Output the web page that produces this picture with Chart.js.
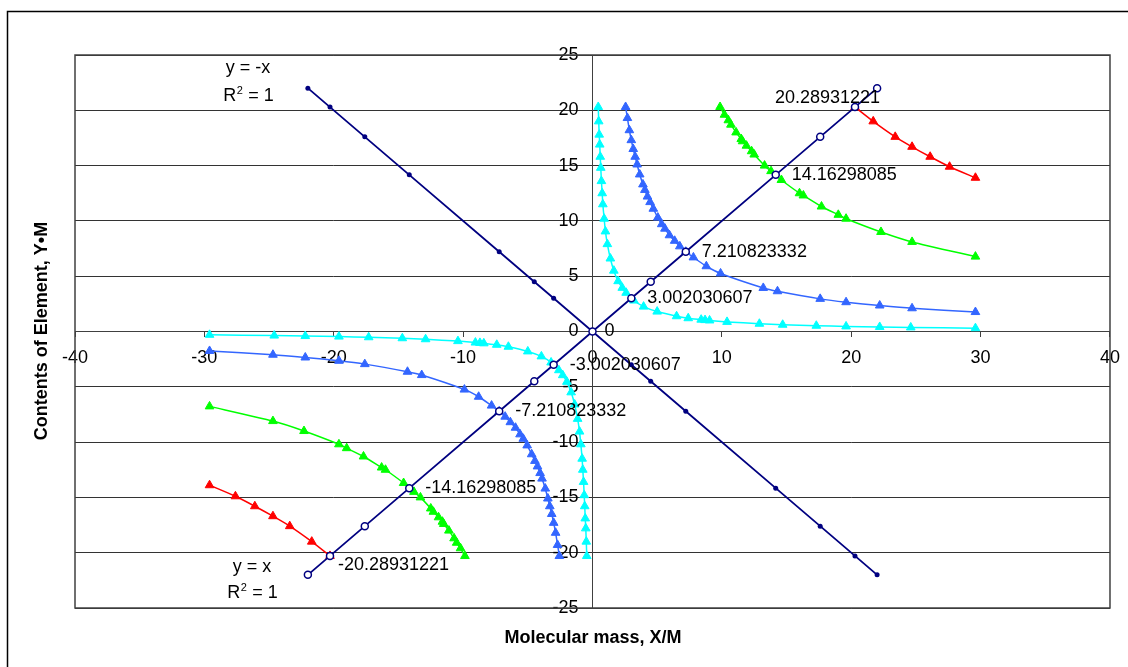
<!DOCTYPE html>
<html>
<head>
<meta charset="utf-8">
<script src="https://cdn.jsdelivr.net/npm/chart.js@4.4.1/dist/chart.umd.min.js"></script>
<style>
  html, body { margin: 0; padding: 0; background: #fff; overflow: hidden; }
  #wrap { position: relative; width: 1128px; height: 667px; overflow: hidden; }
</style>
</head>
<body>
<div id="wrap"><canvas id="grafica" width="1131" height="667"></canvas></div>
<script>
// ---- datos ----
// curva cian, cuadrante I
const cianX1 = [0.444, 0.48, 0.52, 0.56, 0.6, 0.64, 0.69, 0.75, 0.8, 0.9, 1.0, 1.15, 1.38, 1.65, 1.98, 2.3, 2.6, 3.2, 3.95, 5.0, 6.5, 7.4, 8.4, 8.7, 9.05, 10.4, 12.9, 14.7, 17.3, 19.6, 22.2, 24.6, 29.6];
const cianY1 = [20.3, 19.0, 17.8, 16.9, 15.8, 14.8, 13.6, 12.5, 11.5, 10.2, 9.05, 7.9, 6.6, 5.5, 4.55, 3.95, 3.5, 2.8, 2.25, 1.8, 1.38, 1.2, 1.07, 1.03, 1.0, 0.87, 0.7, 0.61, 0.52, 0.46, 0.41, 0.37, 0.3];
// curva cian, cuadrante III
const cianX3 = [-0.444, -0.48, -0.52, -0.56, -0.6, -0.64, -0.69, -0.75, -0.8, -0.9, -1.0, -1.15, -1.38, -1.65, -1.98, -2.3, -2.6, -3.2, -3.95, -5.0, -6.5, -7.4, -8.4, -8.7, -9.05, -10.4, -12.9, -14.7, -17.3, -19.6, -22.2, -24.6, -29.6];
const cianY3 = [-20.3, -19.0, -17.8, -16.9, -15.8, -14.8, -13.6, -12.5, -11.5, -10.2, -9.05, -7.9, -6.6, -5.5, -4.55, -3.95, -3.5, -2.8, -2.25, -1.8, -1.38, -1.2, -1.07, -1.03, -1.0, -0.87, -0.7, -0.61, -0.52, -0.46, -0.41, -0.37, -0.3];

// curva azul
const azulX1 = [2.56, 2.7, 2.85, 3.0, 3.15, 3.3, 3.45, 3.65, 3.9, 4.05, 4.25, 4.45, 4.7, 5.05, 5.35, 5.6, 5.95, 6.35, 6.75, 7.21, 7.8, 8.8, 9.9, 13.2, 14.3, 17.6, 19.6, 22.2, 24.7, 29.6];
const azulY1 = [20.3, 19.3, 18.2, 17.3, 16.5, 15.8, 15.1, 14.2, 13.3, 12.8, 12.2, 11.7, 11.1, 10.3, 9.7, 9.3, 8.7, 8.2, 7.7, 7.21, 6.7, 5.9, 5.25, 3.94, 3.64, 2.95, 2.65, 2.35, 2.1, 1.76];
const azulX3 = [-2.56, -2.7, -2.85, -3.0, -3.15, -3.3, -3.45, -3.65, -3.9, -4.05, -4.25, -4.45, -4.7, -5.05, -5.35, -5.6, -5.95, -6.35, -6.75, -7.21, -7.8, -8.8, -9.9, -13.2, -14.3, -17.6, -19.6, -22.2, -24.7, -29.6];
const azulY3 = [-20.3, -19.3, -18.2, -17.3, -16.5, -15.8, -15.1, -14.2, -13.3, -12.8, -12.2, -11.7, -11.1, -10.3, -9.7, -9.3, -8.7, -8.2, -7.7, -7.21, -6.7, -5.9, -5.25, -3.94, -3.64, -2.95, -2.65, -2.35, -2.1, -1.76];

// curva verde
const verdeX1 = [9.86, 10.2, 10.5, 10.7, 11.1, 11.5, 11.6, 11.9, 12.3, 12.5, 13.3, 13.8, 14.6, 16.0, 16.3, 17.7, 19.0, 19.6, 22.3, 24.7, 29.6];
const verdeY1 = [20.3, 19.6, 19.1, 18.7, 18.0, 17.4, 17.2, 16.8, 16.3, 16.0, 15.0, 14.5, 13.7, 12.5, 12.3, 11.3, 10.55, 10.2, 9.0, 8.1, 6.77];
const verdeX3 = [-9.86, -10.2, -10.5, -10.7, -11.1, -11.5, -11.6, -11.9, -12.3, -12.5, -13.3, -13.8, -14.6, -16.0, -16.3, -17.7, -19.0, -19.6, -22.3, -24.7, -29.6];
const verdeY3 = [-20.3, -19.6, -19.1, -18.7, -18.0, -17.4, -17.2, -16.8, -16.3, -16.0, -15.0, -14.5, -13.7, -12.5, -12.3, -11.3, -10.55, -10.2, -9.0, -8.1, -6.77];

// curva roja
const rojoX1 = [20.29, 21.7, 23.4, 24.7, 26.1, 27.6, 29.6];
const rojoY1 = [20.29, 19.0, 17.6, 16.7, 15.8, 14.9, 13.9];
const rojoX3 = [-20.29, -21.7, -23.4, -24.7, -26.1, -27.6, -29.6];
const rojoY3 = [-20.29, -19.0, -17.6, -16.7, -15.8, -14.9, -13.9];

// rectas y = x  /  y = -x
const rectaX = [-22, -20.28931221, -17.6, -14.16298085, -7.210823332, -4.5, -3.002030607, 0, 3.002030607, 4.5, 7.210823332, 14.16298085, 17.6, 20.28931221, 22];
const rectaYpos = [-22, -20.28931221, -17.6, -14.16298085, -7.210823332, -4.5, -3.002030607, 0, 3.002030607, 4.5, 7.210823332, 14.16298085, 17.6, 20.28931221, 22];
const rectaYneg = [22, 20.28931221, 17.6, 14.16298085, 7.210823332, 4.5, 3.002030607, 0, -3.002030607, -4.5, -7.210823332, -14.16298085, -17.6, -20.28931221, -22];
const etiquetas = ["", "-20.28931221", "", "-14.16298085", "-7.210823332", "", "-3.002030607", "0", "3.002030607", "", "7.210823332", "14.16298085", "", "20.28931221", ""];

const FUENTE = "'Liberation Sans', Arial, sans-serif";

function puntos(xs, ys) {
    return xs.map((x, i) => ({ x: x, y: ys[i] }));
}

function curva(xs, ys, color) {
    return {
        data: puntos(xs, ys),
        showLine: true,
        borderColor: color,
        backgroundColor: color,
        borderWidth: 1.5,
        pointStyle: "triangle",
        pointRadius: 5,
        pointBorderWidth: 1,
        tension: 0.2
    };
}

// posicion de cada etiqueta respecto a su punto
function desplazamiento(texto) {
    if (texto === "20.28931221") return [-80, -9];
    if (texto === "-20.28931221") return [8, 9];
    if (texto === "0") return [12, 0];
    return [16, 0];
}

const extras = {
    id: "extras",
    beforeDraw(chart) {
        const ctx = chart.ctx;
        ctx.save();
        ctx.strokeStyle = "#000";
        ctx.lineWidth = 1.5;
        ctx.beginPath();
        ctx.moveTo(7.5, 700);
        ctx.lineTo(7.5, 11.5);
        ctx.lineTo(1200, 11.5);
        ctx.stroke();
        ctx.restore();
    },
    afterDraw(chart) {
        const ctx = chart.ctx;
        const a = chart.chartArea;
        ctx.save();
        ctx.strokeStyle = "#404040";
        ctx.lineWidth = 1.5;
        ctx.strokeRect(a.left, a.top, a.right - a.left, a.bottom - a.top);

        // etiquetas de datos de y = x
        ctx.fillStyle = "#000";
        ctx.font = "18px " + FUENTE;
        ctx.textAlign = "left";
        ctx.textBaseline = "middle";
        const meta = chart.getDatasetMeta(0);
        etiquetas.forEach((t, i) => {
            if (!t) return;
            const p = meta.data[i];
            const d = desplazamiento(t);
            ctx.fillText(t, p.x + d[0], p.y + d[1]);
        });

        // ecuaciones de las lineas de tendencia
        ctx.textAlign = "center";
        ctx.textBaseline = "alphabetic";
        ctx.fillText("y = -x", 248, 73);
        ctx.fillText("y = x", 252, 572);
        dibujarR2(ctx, 248, 101);
        dibujarR2(ctx, 252, 598);

        // titulos de ejes
        ctx.font = "bold 18px " + FUENTE;
        ctx.textAlign = "center";
        ctx.textBaseline = "middle";
        ctx.fillText("Molecular mass, X/M", 593, 638);
        ctx.translate(42, 331);
        ctx.rotate(-Math.PI / 2);
        ctx.fillText("Contents of Element, Y\u2022M", 0, 0);
        ctx.restore();
    }
};

function dibujarR2(ctx, cx, base) {
    ctx.save();
    ctx.textAlign = "left";
    ctx.font = "18px " + FUENTE;
    const wR = ctx.measureText("R").width;
    const wResto = ctx.measureText(" = 1").width;
    ctx.font = "11px " + FUENTE;
    const w2 = ctx.measureText("2").width;
    const x0 = cx - (wR + w2 + wResto) / 2;
    ctx.font = "18px " + FUENTE;
    ctx.fillText("R", x0, base);
    ctx.font = "11px " + FUENTE;
    ctx.fillText("2", x0 + wR + 0.5, base - 7);
    ctx.font = "18px " + FUENTE;
    ctx.fillText(" = 1", x0 + wR + w2 + 1, base);
    ctx.restore();
}

Chart.defaults.font.family = FUENTE;
Chart.defaults.font.size = 18;
Chart.defaults.color = "#000";

new Chart(document.getElementById("grafica"), {
    type: "scatter",
    data: {
        datasets: [
            {
                data: puntos(rectaX, rectaYpos),
                showLine: true,
                borderColor: "#000080",
                backgroundColor: "#fff",
                borderWidth: 1.8,
                pointRadius: 3.5,
                pointBorderWidth: 1.5,
                pointBorderColor: "#000080",
                pointBackgroundColor: "#fff"
            },
            {
                data: puntos(rectaX, rectaYneg),
                showLine: true,
                borderColor: "#000080",
                backgroundColor: "#000080",
                borderWidth: 1.8,
                pointRadius: 2.5,
                pointBorderWidth: 0
            },
            curva(cianX1, cianY1, "#00FFFF"),
            curva(cianX3, cianY3, "#00FFFF"),
            curva(azulX1, azulY1, "#3366FF"),
            curva(azulX3, azulY3, "#3366FF"),
            curva(verdeX1, verdeY1, "#00FF00"),
            curva(verdeX3, verdeY3, "#00FF00"),
            curva(rojoX1, rojoY1, "#FF0000"),
            curva(rojoX3, rojoY3, "#FF0000")
        ]
    },
    options: {
        responsive: false,
        animation: false,
        devicePixelRatio: 1,
        layout: { autoPadding: false, padding: { left: 75, top: 55, right: 18, bottom: 59 } },
        plugins: { legend: { display: false }, tooltip: { enabled: false } },
        scales: {
            x: {
                type: "linear",
                min: -40,
                max: 40,
                position: { y: 0 },
                ticks: { stepSize: 10, padding: 11, color: "#000" },
                grid: { drawOnChartArea: false, tickLength: 5, color: "#404040" },
                border: { color: "#404040", width: 1 }
            },
            y: {
                type: "linear",
                min: -25,
                max: 25,
                position: { x: 0 },
                // con el eje centrado la libreria no aplica el padding: se deja hueco con espacios
                ticks: { stepSize: 5, color: "#000", callback: v => v + "\u2002 " },
                grid: { color: "#333", lineWidth: 1, tickLength: 5 },
                border: { color: "#404040", width: 1 }
            }
        }
    },
    plugins: [extras]
});
</script>
</body>
</html>
